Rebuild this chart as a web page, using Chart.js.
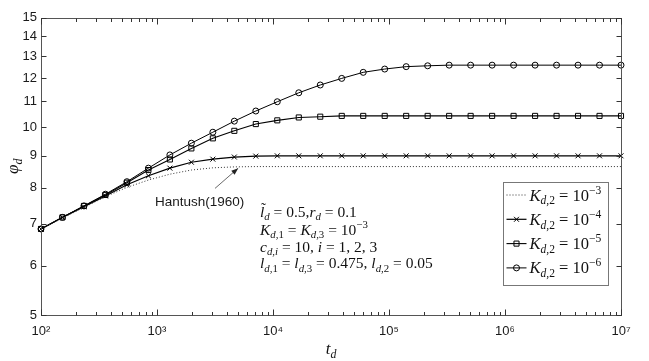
<!DOCTYPE html>
<html><head><meta charset="utf-8">
<script src="https://cdn.jsdelivr.net/npm/chart.js@4/dist/chart.umd.min.js"></script>
<style>html,body{margin:0;padding:0;background:#fff;}canvas{display:block;}</style>
</head><body>
<canvas id="c" width="649" height="361" style="width:649px;height:361px"></canvas>
<script>
// ---- data ----
const tValues = [100, 153.1, 234.6, 359.4, 550.6, 843.4, 1291.5, 1978.4, 3030.3, 4641.6,
  7109.9, 10890, 16681, 25551, 39138, 59948, 91826, 140651, 215443, 330002,
  505481, 774264, 1185940, 1817120, 2782559, 4261567, 6528000, 10000000];
const hantush1960 = [6.87, 7.15, 7.44, 7.74, 8.01, 8.23, 8.41, 8.54, 8.61, 8.64,
  8.65, 8.65, 8.65, 8.65, 8.65, 8.65, 8.65, 8.65, 8.65, 8.65,
  8.65, 8.65, 8.65, 8.65, 8.65, 8.65, 8.65, 8.65];
const kd2_1e4 = [6.87, 7.17, 7.46, 7.76, 8.09, 8.36, 8.60, 8.79, 8.89, 8.96,
  8.99, 9.00, 9.00, 9.00, 9.00, 9.00, 9.00, 9.00, 9.00, 9.00,
  9.00, 9.00, 9.00, 9.00, 9.00, 9.00, 9.00, 9.00];
const kd2_1e5 = [6.87, 7.17, 7.48, 7.79, 8.15, 8.54, 8.88, 9.25, 9.60, 9.87,
  10.12, 10.26, 10.37, 10.40, 10.43, 10.43, 10.43, 10.43, 10.43, 10.43,
  10.43, 10.43, 10.43, 10.43, 10.43, 10.43, 10.43, 10.43];
const kd2_1e6 = [6.87, 7.17, 7.48, 7.81, 8.18, 8.60, 9.03, 9.43, 9.82, 10.23,
  10.62, 10.99, 11.36, 11.69, 11.98, 12.25, 12.40, 12.51, 12.55, 12.58,
  12.58, 12.58, 12.58, 12.58, 12.58, 12.58, 12.58, 12.58];
const legendExponents = ['\u22123', '\u22124', '\u22125', '\u22126'];
const xMajorTicks = [1e2, 1e3, 1e4, 1e5, 1e6, 1e7];
const xMinorFactors = [2, 3, 4, 5, 6, 7, 8, 9];
const yTicks = [5, 6, 7, 8, 9, 10, 11, 12, 13, 14, 15];

// ---- helpers ----
const SANS = '"Liberation Sans", Arial, "DejaVu Sans", sans-serif';
const SERIF = '"Liberation Serif", "DejaVu Serif", serif';
const SUP = {'0':'\u2070','1':'\u00b9','2':'\u00b2','3':'\u00b3','4':'\u2074','5':'\u2075','6':'\u2076','7':'\u2077','8':'\u2078','9':'\u2079'};
function isPow10(v){ const l = Math.log10(v); return Math.abs(l - Math.round(l)) < 1e-9; }
const xTickList = [];
xMajorTicks.forEach((m, i) => {
  xTickList.push(m);
  if (i < xMajorTicks.length - 1) xMinorFactors.forEach(f => xTickList.push(m * f));
});
function xLabel(v){
  if (!isPow10(v)) return '';
  const e = String(Math.round(Math.log10(v)));
  return '10' + e.split('').map(c => SUP[c]).join('');
}
function pts(arr){ return tValues.map((t, i) => ({x: t, y: arr[i]})); }

function drawRich(ctx, x, y, parts, base, measureOnly){
  let cx = x;
  for (const [txt, kind] of parts){
    let size = base, dy = 0;
    if (kind[0] === 'b'){ size = base * 0.7; dy = base * 0.24; }
    else if (kind[0] === 'p'){ size = base * 0.7; dy = -base * 0.42; }
    ctx.font = (kind.endsWith('i') ? 'italic ' : '') + size.toFixed(2) + 'px ' + SERIF;
    if (!measureOnly) ctx.fillText(txt, cx, y + dy);
    cx += ctx.measureText(txt).width;
  }
  return cx - x;
}
function drawMarker(ctx, style, x, y, r){
  ctx.beginPath();
  if (style === 'circle'){ ctx.arc(x, y, r, 0, Math.PI * 2); }
  else if (style === 'rect'){ const s = Math.SQRT1_2 * r; ctx.rect(x - s, y - s, 2 * s, 2 * s); }
  else if (style === 'crossRot'){ const s = Math.SQRT1_2 * r; ctx.moveTo(x - s, y - s); ctx.lineTo(x + s, y + s); ctx.moveTo(x - s, y + s); ctx.lineTo(x + s, y - s); }
  ctx.stroke();
}

const textLines = [
  [['l\u0303','i'],['d','bi'],[' = 0.5,','r'],['r','i'],['d','bi'],[' = 0.1','r']],
  [['K','i'],['d','bi'],[',1','br'],[' = ','r'],['K','i'],['d','bi'],[',3','br'],[' = 10','r'],['\u22123','pr']],
  [['c','i'],['d','bi'],[',','br'],['i','bi'],[' = 10, ','r'],['i','i'],[' = 1, 2, 3','r']],
  [['l','i'],['d','bi'],[',1','br'],[' = ','r'],['l','i'],['d','bi'],[',3','br'],[' = 0.475, ','r'],['l','i'],['d','bi'],[',2','br'],[' = 0.05','r']]
];

const annot = {
  id: 'annot',
  afterDraw(chart){
    const ctx = chart.ctx, ca = chart.chartArea;
    const xs = chart.scales.x, ys = chart.scales.y;
    ctx.save();
    // box
    const L = Math.round(ca.left) + 0.5, R = Math.round(ca.right) + 0.5;
    const T = Math.round(ca.top) + 0.5, B = Math.round(ca.bottom) + 0.5;
    ctx.strokeStyle = '#555'; ctx.lineWidth = 1;
    ctx.strokeRect(L, T, R - L, B - T);
    // ticks inside on all four sides
    ctx.strokeStyle = '#333';
    ctx.beginPath();
    xs.ticks.forEach(t => {
      const px = Math.round(xs.getPixelForValue(t.value)) + 0.5;
      const len = isPow10(t.value) ? 6 : 3.5;
      ctx.moveTo(px, B); ctx.lineTo(px, B - len);
      ctx.moveTo(px, T); ctx.lineTo(px, T + len);
    });
    ys.ticks.forEach(t => {
      const py = Math.round(ys.getPixelForValue(t.value)) + 0.5;
      ctx.moveTo(L, py); ctx.lineTo(L + 5, py);
      ctx.moveTo(R, py); ctx.lineTo(R - 5, py);
    });
    ctx.stroke();

    // axis titles
    ctx.fillStyle = '#111'; ctx.textBaseline = 'alphabetic';
    const xt = [['t','i'],['d','bi']];
    const wx = drawRich(ctx, 0, 0, xt, 17, true);
    drawRich(ctx, (ca.left + ca.right) / 2 - wx / 2, 354, xt, 17);
    const yt = [['\u03c6','i'],['d','bi']];
    const wy = drawRich(ctx, 0, 0, yt, 17, true);
    ctx.save();
    ctx.translate(18, (ca.top + ca.bottom) / 2);
    ctx.rotate(-Math.PI / 2);
    drawRich(ctx, -wy / 2, 0, yt, 17);
    ctx.restore();

    // Hantush annotation
    ctx.fillStyle = '#1a1a1a';
    ctx.font = '13.5px ' + SANS;
    ctx.textBaseline = 'middle';
    ctx.fillText('Hantush(1960)', xs.getPixelForValue(962), ys.getPixelForValue(7.59));
    const ax0 = xs.getPixelForValue(3162), ay0 = ys.getPixelForValue(7.98);
    const ax1 = xs.getPixelForValue(5012), ay1 = ys.getPixelForValue(8.60);
    ctx.strokeStyle = '#444'; ctx.lineWidth = 0.8;
    ctx.beginPath(); ctx.moveTo(ax0, ay0); ctx.lineTo(ax1, ay1); ctx.stroke();
    const ang = Math.atan2(ay1 - ay0, ax1 - ax0);
    ctx.fillStyle = '#222';
    ctx.beginPath();
    ctx.moveTo(ax1, ay1);
    ctx.lineTo(ax1 - 7 * Math.cos(ang) + 2.5 * Math.sin(ang), ay1 - 7 * Math.sin(ang) - 2.5 * Math.cos(ang));
    ctx.lineTo(ax1 - 7 * Math.cos(ang) - 2.5 * Math.sin(ang), ay1 - 7 * Math.sin(ang) + 2.5 * Math.cos(ang));
    ctx.closePath(); ctx.fill();

    // parameter text block
    ctx.fillStyle = '#111'; ctx.textBaseline = 'alphabetic';
    const tx = ca.left + 219;
    const baseY = [216.5, 234.5, 251.5, 268];
    textLines.forEach((ln, i) => drawRich(ctx, tx, baseY[i], ln, 15.5));

    // legend
    const lw = 105, lh = 103;
    const lx = Math.round(ca.right - 13 - lw) + 0.5, ly = Math.round(ca.bottom - 30 - lh) + 0.5;
    ctx.fillStyle = '#fff';
    ctx.fillRect(lx, ly, lw, lh);
    ctx.strokeStyle = '#777'; ctx.lineWidth = 1;
    ctx.strokeRect(lx, ly, lw, lh);
    chart.data.datasets.forEach((ds, i) => {
      const cy = ly + 12.5 + i * 24.3;
      ctx.strokeStyle = ds.borderColor; ctx.lineWidth = ds.borderWidth;
      ctx.setLineDash(ds.borderDash || []);
      ctx.beginPath(); ctx.moveTo(lx + 3, cy); ctx.lineTo(lx + 23, cy); ctx.stroke();
      ctx.setLineDash([]);
      if (ds.pointRadius > 0){ ctx.lineWidth = 1; drawMarker(ctx, ds.pointStyle, lx + 13, cy, ds.pointRadius); }
      ctx.fillStyle = '#111';
      drawRich(ctx, lx + 26, cy + 5.5, [['K','i'],['d','bi'],[',2','br'],[' = 10','r'],[legendExponents[i],'pr']], 16.5);
    });
    ctx.restore();
  }
};

const common = {tension: 0, clip: false, pointBorderWidth: 1, pointBackgroundColor: 'rgba(0,0,0,0)', borderColor: '#000', pointBorderColor: '#000'};
new Chart(document.getElementById('c'), {
  type: 'line',
  data: {
    datasets: [
      Object.assign({}, common, {label: 'K=1e-3', data: pts(hantush1960), borderColor: '#333', borderWidth: 1, borderDash: [1, 2], pointRadius: 0, pointStyle: 'circle'}),
      Object.assign({}, common, {label: 'K=1e-4', data: pts(kd2_1e4), borderWidth: 1.2, pointStyle: 'crossRot', pointRadius: 3.5}),
      Object.assign({}, common, {label: 'K=1e-5', data: pts(kd2_1e5), borderWidth: 1.1, pointStyle: 'rect', pointRadius: 3.6}),
      Object.assign({}, common, {label: 'K=1e-6', data: pts(kd2_1e6), borderWidth: 1, pointStyle: 'circle', pointRadius: 3})
    ]
  },
  options: {
    responsive: false, animation: false, devicePixelRatio: 1,
    layout: {padding: {top: 17.5, right: 28, left: 0, bottom: 0}},
    plugins: {legend: {display: false}, tooltip: {enabled: false}},
    scales: {
      x: {
        type: 'logarithmic', min: 100, max: 1e7,
        grid: {display: false, drawTicks: false}, border: {display: false},
        ticks: {autoSkip: false, maxRotation: 0, minRotation: 0, padding: 9, color: '#1a1a1a',
          font: {family: SANS, size: 13}, callback: (v) => xLabel(v)},
        afterBuildTicks: (s) => { s.ticks = xTickList.map(v => ({value: v})); },
        afterFit: (s) => { s.height = 46; }
      },
      y: {
        type: 'logarithmic', min: 5, max: 15,
        grid: {display: false, drawTicks: false}, border: {display: false},
        ticks: {autoSkip: false, padding: 4, color: '#1a1a1a', font: {family: SANS, size: 13},
          callback: (v) => String(v)},
        afterBuildTicks: (s) => { s.ticks = yTicks.map(v => ({value: v})); },
        afterFit: (s) => { s.width = 41; }
      }
    }
  },
  plugins: [annot]
});
</script>
</body></html>
